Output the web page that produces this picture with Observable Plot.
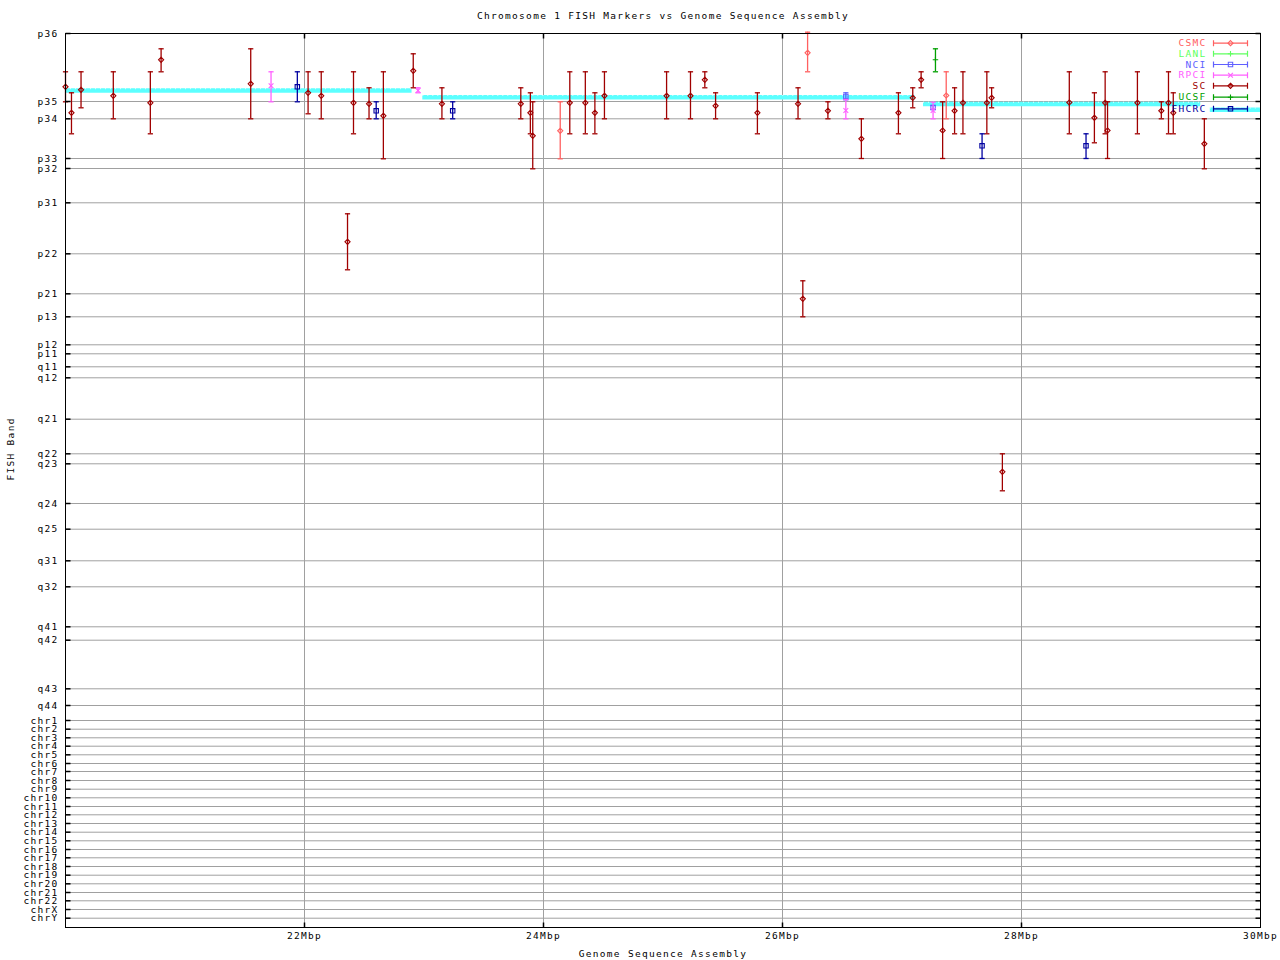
<!DOCTYPE html>
<html><head><meta charset="utf-8">
<script src="https://cdn.jsdelivr.net/npm/d3@7"></script>
<script src="https://cdn.jsdelivr.net/npm/@observablehq/plot@0.6"></script>
<style>body{margin:0;background:#fff} #chart svg{display:block}</style>
</head><body><div id="chart"></div>
<script>
// ---------- text ----------
const chartTitle = "Chromosome 1 FISH Markers vs Genome Sequence Assembly";
const xTitle = "Genome Sequence Assembly";
const yTitle = "FISH Band";

// ---------- axes ----------
const xDomain = [20, 30];               // Mbp
const xTicks = [22, 24, 26, 28, 30];
const xGrid = [22, 24, 26, 28];
const yDomain = [0, 894];               // band coordinate (p36 at top)
const bandLabels = ["p36","p35","p34","p33","p32","p31","p22","p21","p13","p12","p11","q11","q12","q21","q22","q23","q24","q25","q31","q32","q41","q42","q43","q44",
  "chr1","chr2","chr3","chr4","chr5","chr6","chr7","chr8","chr9","chr10","chr11","chr12","chr13","chr14","chr15","chr16","chr17","chr18","chr19","chr20","chr21","chr22","chrX","chrY"];
const bandPositions = [0,68,85.3,125,135,169.3,220.3,260.3,283.3,311.3,320.3,333.3,344.3,385.7,420.3,430.3,470,495.7,527.3,553.3,593.3,606.7,655.3,672,
  687,695.7,704.3,712.7,721.3,730,738,747,755.7,764.3,773,781.3,790,798.7,807.3,816,824.3,833,841.7,850.3,859,867.3,876,884.7];

// ---------- series ----------
const sources = ["CSMC","LANL","NCI","RPCI","SC","UCSF","FHCRC"];
const sourceColors = ["#ff6060","#60ff60","#6060ff","#ff60ff","#a00000","#00a000","#0000a0"];
const sourceSymbols = ["diamond2","plus","square2","times","diamond2","plus","square2"];

const csmcMbp  = [24.14, 26.21, 27.37];
const csmcBand = [97.3, 19.3, 62];
const csmcMin  = [68.3, -1.3, 38.3];
const csmcMax  = [125.3, 38.3, 85.3];

const lanlMbp = [], lanlBand = [], lanlMin = [], lanlMax = [];

const nciMbp  = [26.53, 27.26];
const nciBand = [63, 74];
const nciMin  = [59.3, 72];
const nciMax  = [66.3, 76];

const rpciMbp  = [21.72, 22.95, 26.53, 27.26];
const rpciBand = [52.3, 57, 77, 77];
const rpciMin  = [38.3, 54.3, 66, 68.7];
const rpciMax  = [68.3, 59.3, 85.3, 85.3];

const scMbp  = [20.00,20.05,20.13,20.40,20.71,20.80,21.55,22.03,22.14,22.36,22.41,22.54,22.66,22.91,23.15,23.81,23.89,23.91,24.22,24.35,24.43,24.51,25.03,25.23,25.35,25.44,25.79,26.13,26.17,26.38,26.66,26.97,27.09,27.16,27.34,27.44,27.51,27.71,27.75,27.84,28.40,28.61,28.70,28.72,28.97,29.17,29.23,29.27,29.53];
const scBand = [53.3,79.3,56.3,62.3,69.3,26.3,50.3,59.3,62.3,208.3, 69.3,70.3,82.3,37.3,70.3,70.3,79.3,102.3,69.3,69.3, 79.3,62.3,62.3,62.3,46.3,72.3,79.3,70.3,265.3,77.3, 105.3,79.3,64.3,46.3,97,77.3,69.3,69.3,64.3,438.3, 69,84.3,69.3,97,69.3,77.3,69.3,79.3,110.3];
const scMin  = [38.3,59.3,38.3,38.3,38.3,15.3,15.3,38.3,38.3,180.3, 38.3,54.3,38.3,20.3,54.3,54.3,59.3,68.3,38.3,38.3, 59.3,38.3,38.3,38.3,38.3,59.3,59.3,54.3,247.3,68.3, 85.3,59.3,54.3,38.3,68.3,54.3,38.3,38.3,54.3,420.3, 38.3,59.3,38.3,68.3,38.3,68.3,38.3,59.3,85.3];
const scMax  = [68.3,100.3,74.3,85.3,100.3,38.3,85.3,80.3,85.3,236.3, 100.3,85.3,125.3,54.3,85.3,85.3,100.3,135.3,100.3,100.3, 100.3,85.3,85.3,85.3,54.3,85.3,100.3,85.3,283.3,85.3, 125,100.3,74.3,54.3,125,100.3,100.3,100.3,74.3,457.3, 100.3,109.3,100.3,125,100.3,85.3,100.3,100.3,135.3];

const ucsfMbp  = [27.28];
const ucsfBand = [26.3];
const ucsfMin  = [15.3];
const ucsfMax  = [38.3];

const fhcrcMbp  = [21.94, 22.60, 23.24, 27.67, 28.54];
const fhcrcBand = [53.3, 77.3, 77.3, 112.3, 112.3];
const fhcrcMin  = [38.3, 68.3, 68.3, 100.3, 100.3];
const fhcrcMax  = [68.3, 85.3, 85.3, 125, 125];

// genome sequence assembly (cyan) segments
const asmStart = [20.00, 22.99, 27.18, 29.58];
const asmEnd   = [22.90, 27.11, 29.50, 30.00];
const asmBand  = [57, 63.7, 70.5, 76.3];
const asmColor = "#5cffff";

// ---------- build tables ----------
const seriesCols = [
  [csmcMbp, csmcBand, csmcMin, csmcMax],
  [lanlMbp, lanlBand, lanlMin, lanlMax],
  [nciMbp, nciBand, nciMin, nciMax],
  [rpciMbp, rpciBand, rpciMin, rpciMax],
  [scMbp, scBand, scMin, scMax],
  [ucsfMbp, ucsfBand, ucsfMin, ucsfMax],
  [fhcrcMbp, fhcrcBand, fhcrcMin, fhcrcMax]
];
const series = sources.map((s, i) => ({
  source: s, color: sourceColors[i], symbol: sourceSymbols[i],
  points: seriesCols[i][0].map((m, j) => ({mbp: m, band: seriesCols[i][1][j], min: seriesCols[i][2][j], max: seriesCols[i][3][j]}))
}));
const assembly = asmStart.map((s, i) => ({start: s, end: asmEnd[i], band: asmBand[i]}));
const labelOf = new Map(bandPositions.map((p, i) => [p, bandLabels[i]]));

// ---------- custom symbols ----------
const capSym = {draw(ctx, size) { const r = Math.sqrt(size / Math.PI); ctx.moveTo(-r, 0); ctx.lineTo(r, 0); }};
const tickRight = {draw(ctx) { ctx.moveTo(0, 0); ctx.lineTo(5, 0); }};
const tickLeft  = {draw(ctx) { ctx.moveTo(0, 0); ctx.lineTo(-5, 0); }};
const tickUp    = {draw(ctx) { ctx.moveTo(0, 0); ctx.lineTo(0, -5); }};
const tickDown  = {draw(ctx) { ctx.moveTo(0, 0); ctx.lineTo(0, 5); }};
const keySym = {draw(ctx) {
  ctx.moveTo(-17, 0); ctx.lineTo(17, 0);
  ctx.moveTo(-17, -3); ctx.lineTo(-17, 3);
  ctx.moveTo(17, -3); ctx.lineTo(17, 3);
}};
const symR = {diamond2: 2.3, square2: 2.8, times: 2.3, plus: 1.9};

const legendDy = [9.7, 20.3, 31, 41.7, 52.3, 63.7, 75.3];

const marks = [
  // grid
  Plot.ruleY(bandPositions, {y: d => d, stroke: "#a0a0a0", strokeWidth: 1}),
  Plot.ruleX(xGrid, {x: d => d, stroke: "#a0a0a0", strokeWidth: 1}),
  // assembly band
  Plot.ruleY(assembly, {x1: "start", x2: "end", y: "band", stroke: asmColor, strokeWidth: 4.5}),
  Plot.ruleY(assembly, {x1: "start", x2: "end", y: "band", stroke: "white", strokeWidth: 1, strokeDasharray: "1 4", dy: -1.8, strokeOpacity: 0.85}),
  // error bars per source
  ...series.flatMap(s => [
    Plot.ruleX(s.points, {x: "mbp", y1: "min", y2: "max", stroke: s.color, strokeWidth: 1.3}),
    Plot.dot(s.points, {x: "mbp", y: "min", symbol: capSym, r: 2.6, stroke: s.color, fill: "none", strokeWidth: 1.3}),
    Plot.dot(s.points, {x: "mbp", y: "max", symbol: capSym, r: 2.6, stroke: s.color, fill: "none", strokeWidth: 1.3}),
    Plot.dot(s.points, {x: "mbp", y: "band", symbol: s.symbol, r: symR[s.symbol], stroke: s.color, fill: "none", strokeWidth: 1.1})
  ]),
  // legend
  ...series.flatMap((s, i) => [
    Plot.text([s.source], {text: d => d, frameAnchor: "top-right", dx: -54, dy: legendDy[i], textAnchor: "end", lineAnchor: "middle", fill: s.color}),
    Plot.dot([s.source], {frameAnchor: "top-right", dx: -30, dy: legendDy[i], symbol: keySym, r: 1, stroke: s.color, fill: "none", strokeWidth: 1.2}),
    Plot.dot([s.source], {frameAnchor: "top-right", dx: -30, dy: legendDy[i], symbol: s.symbol, r: symR[s.symbol], stroke: s.color, fill: "none", strokeWidth: 1.1})
  ]),
  // axes
  Plot.axisY(bandPositions, {anchor: "left", tickSize: 0, tickPadding: 7, tickFormat: d => labelOf.get(d), label: null}),
  Plot.axisX(xTicks, {anchor: "bottom", tickSize: 0, tickPadding: 5, tickFormat: d => `${d}Mbp`, label: null}),
  Plot.dot(bandPositions, {y: d => d, frameAnchor: "left", symbol: tickRight, r: 1, stroke: "black", fill: "none"}),
  Plot.dot(bandPositions, {y: d => d, frameAnchor: "right", symbol: tickLeft, r: 1, stroke: "black", fill: "none"}),
  Plot.dot(xGrid, {x: d => d, frameAnchor: "bottom", symbol: tickUp, r: 1, stroke: "black", fill: "none"}),
  Plot.dot(xGrid, {x: d => d, frameAnchor: "top", symbol: tickDown, r: 1, stroke: "black", fill: "none"}),
  Plot.frame({stroke: "black", strokeWidth: 1}),
  // titles
  Plot.text([chartTitle], {text: d => d, frameAnchor: "top", dy: -18, lineAnchor: "middle"}),
  Plot.text([xTitle], {text: d => d, frameAnchor: "bottom", dy: 26, lineAnchor: "middle"}),
  Plot.text([yTitle], {text: d => d, frameAnchor: "left", dx: -55, rotate: -90, lineAnchor: "middle"})
];

const plot = Plot.plot({
  width: 1280,
  height: 960,
  marginLeft: 65,
  marginRight: 20,
  marginTop: 33,
  marginBottom: 33,
  style: {fontFamily: "'DejaVu Sans Mono', monospace", fontSize: "9.5px", letterSpacing: "1.3px", background: "white", overflow: "visible"},
  x: {domain: xDomain},
  y: {domain: yDomain, reverse: true},
  marks
});
document.getElementById("chart").appendChild(plot);
</script>
</body></html>
